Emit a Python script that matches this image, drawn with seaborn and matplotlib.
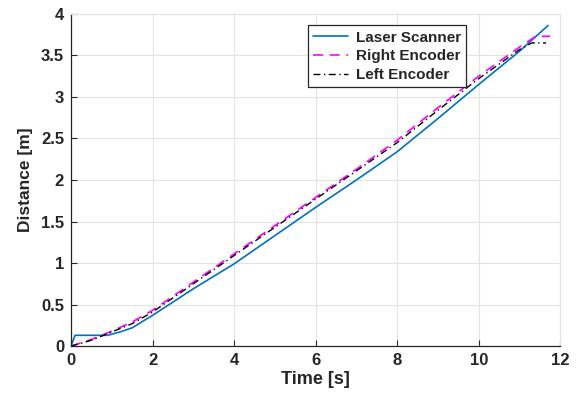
import pandas as pd
import numpy as np
import seaborn as sns
import matplotlib.pyplot as plt

# values
t_laser = [0, 0.1, 0.5, 0.9, 1.2, 1.5, 2.0, 2.5, 3.0, 3.5, 4.0, 5.0, 6.0, 7.0, 8.0, 9.0, 10.0, 11.0, 11.7]
laser = [0, 0.13, 0.13, 0.13, 0.17, 0.22, 0.37, 0.53, 0.69, 0.84, 0.99, 1.33, 1.67, 2.00, 2.34, 2.74, 3.15, 3.55, 3.86]

t_right = [0, 0.5, 1.0, 1.5, 2.0, 3.0, 4.0, 5.0, 6.0, 7.0, 8.0, 9.0, 10.0, 11.0, 11.4, 11.75]
right = [0, 0.08, 0.18, 0.29, 0.43, 0.77, 1.11, 1.45, 1.79, 2.13, 2.48, 2.87, 3.25, 3.60, 3.73, 3.73]

t_left = [0, 0.5, 1.0, 1.5, 2.0, 3.0, 4.0, 5.0, 6.0, 7.0, 8.0, 9.0, 10.0, 11.0, 11.3, 11.65]
left = [0, 0.07, 0.17, 0.27, 0.41, 0.75, 1.09, 1.43, 1.77, 2.11, 2.45, 2.84, 3.22, 3.57, 3.65, 3.65]

x_ticks = [0, 2, 4, 6, 8, 10, 12]
y_ticks = [0, 0.5, 1, 1.5, 2, 2.5, 3, 3.5, 4]
y_tick_labels = ["0", "0.5", "1", "1.5", "2", "2.5", "3", "3.5", "4"]

sns.set_style("whitegrid")
plt.rcParams['font.family'] = ['Liberation Sans', 'DejaVu Sans']
plt.rcParams['font.weight'] = 'bold'

f = plt.figure(figsize=(5.77, 3.96), dpi=100)
ax = f.add_axes([0.123, 0.126, 0.848, 0.839])

df_laser = pd.DataFrame({"t": t_laser, "d": laser})
df_right = pd.DataFrame({"t": t_right, "d": right})
df_left = pd.DataFrame({"t": t_left, "d": left})

sns.lineplot(data=df_laser, x="t", y="d", ax=ax, color="#0072BD", lw=1.2, label="Laser Scanner")
sns.lineplot(data=df_right, x="t", y="d", ax=ax, color="#FF00FF", lw=1.2, dashes=False, label="Right Encoder")
sns.lineplot(data=df_left, x="t", y="d", ax=ax, color="black", lw=1.0, label="Left Encoder")
ax.lines[1].set_linestyle((0, (6, 4)))
ax.lines[2].set_linestyle((0, (5, 2.5, 1, 2.5)))

ax.set_xlim(0, 12)
ax.set_ylim(0, 4)
ax.set_xticks(x_ticks)
ax.set_yticks(y_ticks)
ax.set_yticklabels(y_tick_labels)
ax.tick_params(direction="in", length=4, width=0.8, labelsize=12, colors="#262626",
               bottom=True, left=True, pad=5)
ax.set_xlabel("Time [s]", fontsize=13, fontweight="bold", color="#262626", labelpad=2)
ax.set_ylabel("Distance [m]", fontsize=12.5, fontweight="bold", color="#262626", labelpad=6)
ax.grid(True, color="#e3e3e3", lw=0.8)

for s in ["left", "bottom"]:
    ax.spines[s].set_color("#262626")
    ax.spines[s].set_linewidth(0.9)
for s in ["top", "right"]:
    ax.spines[s].set_color("#e3e3e3")
    ax.spines[s].set_linewidth(0.8)

leg = ax.legend(loc="upper left", bbox_to_anchor=(0.468, 0.988), fontsize=11,
                frameon=True, fancybox=False, handlelength=2.3, borderpad=0.35,
                labelspacing=0.3, handletextpad=0.5)
leg.get_frame().set_edgecolor("#262626")
leg.get_frame().set_linewidth(0.9)
leg.get_frame().set_alpha(1)

f.savefig("out.png", dpi=100)
